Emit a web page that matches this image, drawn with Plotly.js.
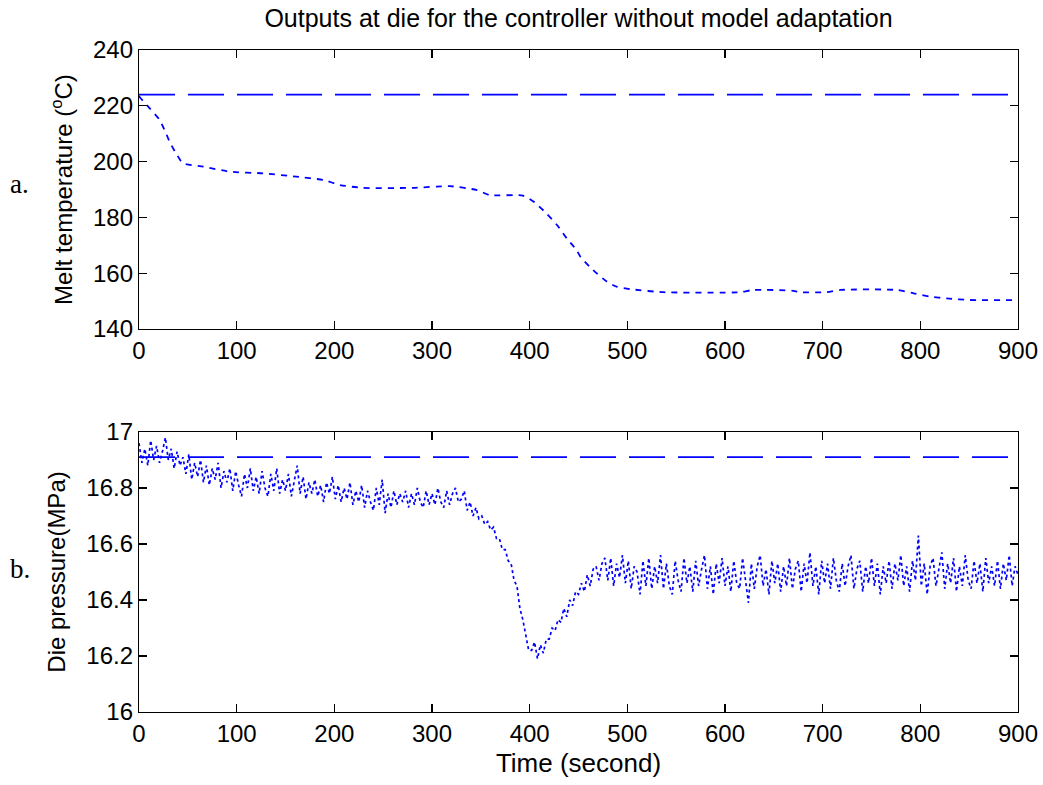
<!DOCTYPE html>
<html>
<head>
<meta charset="utf-8">
<script src="https://cdn.plot.ly/plotly-3.0.1.min.js"></script>
<style>html,body{margin:0;padding:0;background:#fff;}#chart{width:1043px;height:785px;}</style>
</head>
<body>
<div id="chart"></div>
<script>
// ---- data ----
const tempTime = [0,1,11,21,27,32,39,45,66,93,127,161,189,206,229,280,318,346,359,393,405,417,428,438,448,452,465,479,489,503,537,615,629,670,677,704,718,776,793,810,827,851,900];
const tempVal  = [223.5,223,219.1,215,210.7,206.6,202.4,199.4,198.2,196.4,195.8,194.6,193.4,191.6,190.6,190.6,191.2,189.8,188,187.8,185.4,181.5,177.3,172.5,168.3,165.9,161.1,157,155.2,154.3,153.2,153.2,154,153.7,153.2,153.2,154,154,152.8,151.6,151,150.4,150.4];
const tempSetTime = [0, 900];
const tempSetVal  = [224, 224];

// die pressure, one sample every 3 s starting at 0 s
const pressStart = 0;
const pressStep = 3;
const pressVal = [
16.96,16.89,16.94,16.88,16.97,16.90,16.95,16.89,16.93,16.98,
16.90,16.94,16.87,16.93,16.88,16.91,16.85,16.92,16.83,16.89,
16.84,16.90,16.82,16.88,16.81,16.87,16.83,16.89,16.80,16.86,
16.82,16.87,16.79,16.86,16.81,16.77,16.85,16.80,16.87,16.79,
16.84,16.78,16.86,16.80,16.77,16.85,16.79,16.87,16.78,16.83,
16.79,16.85,16.77,16.83,16.88,16.78,16.84,16.76,16.82,16.78,
16.83,16.77,16.81,16.75,16.82,16.78,16.84,16.76,16.81,16.75,
16.80,16.76,16.82,16.74,16.79,16.75,16.81,16.73,16.79,16.75,
16.72,16.80,16.74,16.83,16.71,16.78,16.73,16.79,16.74,16.78,
16.75,16.79,16.73,16.78,16.74,16.80,16.75,16.73,16.79,16.74,
16.78,16.74,16.80,16.75,16.73,16.79,16.74,16.78,16.80,16.75,
16.76,16.79,16.72,16.75,16.70,16.73,16.69,16.70,16.67,16.68,
16.65,16.66,16.62,16.62,16.58,16.58,16.54,16.53,16.47,16.45,
16.37,16.33,16.28,16.22,16.22,16.25,16.19,16.24,16.21,16.26,
16.26,16.30,16.29,16.33,16.32,16.37,16.34,16.40,16.38,16.43,
16.42,16.46,16.43,16.49,16.45,16.51,16.52,16.47,16.53,16.55,
16.47,16.55,16.45,16.53,16.48,16.56,16.46,16.54,16.44,16.52,
16.50,16.42,16.54,16.45,16.55,16.44,16.52,16.46,16.56,16.44,
16.53,16.45,16.42,16.54,16.47,16.43,16.55,16.46,16.52,16.43,
16.54,16.45,16.51,16.56,16.44,16.52,16.42,16.53,16.46,16.55,
16.45,16.52,16.43,16.54,16.46,16.44,16.55,16.47,16.39,16.53,
16.44,16.52,16.56,16.45,16.51,16.42,16.54,16.46,16.53,16.43,
16.52,16.45,16.55,16.44,16.51,16.54,16.43,16.53,16.46,16.57,
16.45,16.52,16.42,16.54,16.46,16.53,16.44,16.55,16.47,16.43,
16.53,16.45,16.52,16.56,16.44,16.51,16.54,16.43,16.52,16.46,
16.55,16.45,16.53,16.42,16.52,16.46,16.54,16.44,16.53,16.47,
16.56,16.45,16.52,16.43,16.54,16.47,16.63,16.45,16.53,16.42,
16.52,16.55,16.45,16.51,16.57,16.44,16.53,16.46,16.55,16.43,
16.52,16.45,16.56,16.47,16.44,16.54,16.46,16.53,16.43,16.55,
16.46,16.52,16.45,16.54,16.44,16.53,16.47,16.56,16.45,16.52,
16.49];
const pressSetTime = [0, 900];
const pressSetVal  = [16.91, 16.91];

const titleText = 'Outputs at die for the controller without model adaptation';
const yTitleTop = 'Melt temperature (<sup>o</sup>C)';
const yTitleBottom = 'Die pressure(MPa)';
const xTitleBottom = 'Time (second)';

// ---- styling ----
const blue = 'rgb(0,0,255)';
const dotted = '6px,6px';
const noisyDots = '3px,3px';
const dashed = '36px,13px';
const font = 'Liberation Sans, Arial, sans-serif';

const traces = [
  {x: tempSetTime, y: tempSetVal, xaxis: 'x', yaxis: 'y', mode: 'lines', line: {color: blue, width: 1.6, dash: dashed}},
  {x: tempTime, y: tempVal, xaxis: 'x', yaxis: 'y', mode: 'lines', line: {color: blue, width: 1.8, dash: dotted, shape: 'spline', smoothing: 0.6}},
  {x: pressSetTime, y: pressSetVal, xaxis: 'x2', yaxis: 'y2', mode: 'lines', line: {color: blue, width: 1.6, dash: dashed}},
  {x0: pressStart, dx: pressStep, y: pressVal, xaxis: 'x2', yaxis: 'y2', mode: 'lines', line: {color: blue, width: 1.7, dash: noisyDots}}
];

function axisBase() {
  return {
    showline: true, linecolor: '#000', linewidth: 1.2, mirror: 'ticks',
    ticks: 'inside', ticklen: 8, tickwidth: 1.2, tickcolor: '#000',
    showgrid: false, zeroline: false,
    tickfont: {family: font, size: 24, color: '#000'}
  };
}

const layout = {
  width: 1043, height: 785,
  margin: {l: 139, r: 25, t: 50, b: 73},
  paper_bgcolor: '#fff', plot_bgcolor: '#fff',
  showlegend: false,
  title: {text: titleText, font: {family: font, size: 25, color: '#000'}, x: 0.5, xref: 'paper', y: 1 - 18/785, yanchor: 'middle'},
  xaxis: Object.assign(axisBase(), {domain: [0, 1], range: [0, 900], dtick: 100, tick0: 0, anchor: 'y'}),
  yaxis: Object.assign(axisBase(), {domain: [0.5785, 1], range: [140, 240], dtick: 20, tick0: 140, anchor: 'x',
    title: {text: yTitleTop, font: {family: font, size: 24, color: '#000'}, standoff: 13}}),
  xaxis2: Object.assign(axisBase(), {domain: [0, 1], range: [0, 900], dtick: 100, tick0: 0, anchor: 'y2',
    title: {text: xTitleBottom, font: {family: font, size: 26, color: '#000'}, standoff: 7}}),
  yaxis2: Object.assign(axisBase(), {domain: [0, 0.4230], range: [16, 17], dtick: 0.2, tick0: 16, anchor: 'x2',
    title: {text: yTitleBottom, font: {family: font, size: 24, color: '#000'}, standoff: 13}}),
  annotations: [
    {text: 'a.', xref: 'paper', yref: 'paper', x: (8 - 139)/879, y: (712 - 184)/662, xanchor: 'left', yanchor: 'middle', showarrow: false,
     font: {family: 'Liberation Serif, Times New Roman, serif', size: 27, color: '#000'}},
    {text: 'b.', xref: 'paper', yref: 'paper', x: (8 - 139)/879, y: (712 - 569)/662, xanchor: 'left', yanchor: 'middle', showarrow: false,
     font: {family: 'Liberation Serif, Times New Roman, serif', size: 27, color: '#000'}}
  ]
};

Plotly.newPlot('chart', traces, layout, {staticPlot: true, displayModeBar: false});
</script>
</body>
</html>
